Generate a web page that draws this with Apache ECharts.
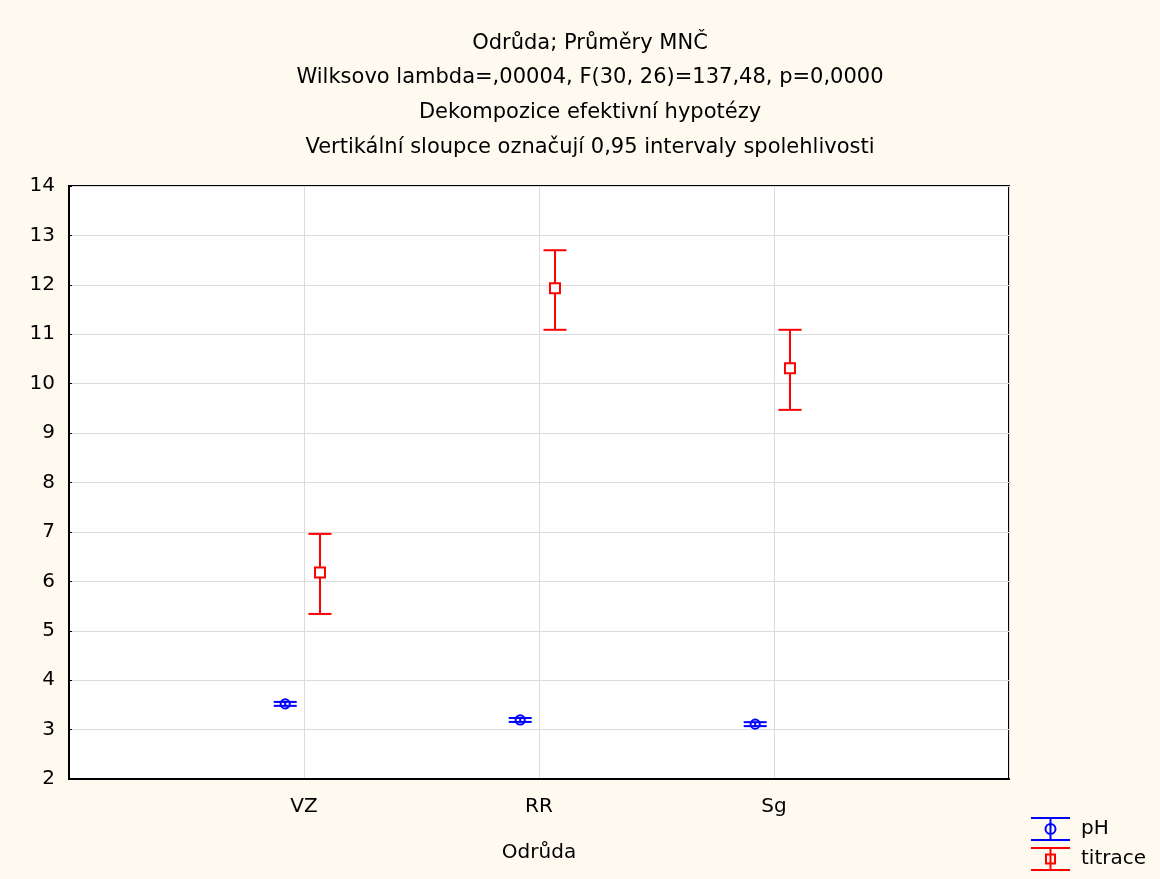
<!DOCTYPE html>
<html><head><meta charset="utf-8">
<script src="https://cdn.jsdelivr.net/npm/echarts@6/dist/echarts.min.js"></script>
<style>html,body{margin:0;padding:0;background:#FFFAF0;}#c{width:1160px;height:879px;}</style>
</head><body><div id="c"></div>
<script>
const categories = ['VZ', 'RR', 'Sg'];
const categoryPositions = [1, 2, 3];
const phMean = [3.52, 3.195, 3.11];
const phLow = [3.48, 3.155, 3.07];
const phHigh = [3.56, 3.235, 3.15];
const titMean = [6.18, 11.93, 10.31];
const titLow = [5.34, 11.09, 9.47];
const titHigh = [6.96, 12.70, 11.09];
const yTicks = [2, 14, 1];
const titleLines = ['Odrůda; Průměry MNČ', 'Wilksovo lambda=,00004, F(30, 26)=137,48, p=0,0000', 'Dekompozice efektivní hypotézy', 'Vertikální sloupce označují 0,95 intervaly spolehlivosti'];

const FONT = '"DejaVu Sans", "Liberation Sans", Arial, sans-serif';

function makeData(mean, low, high) {
  return categoryPositions.map((p, i) => [p, mean[i], low[i], high[i]]);
}

function errRender(offset, shape) {
  return function (params, api) {
    const x = api.value(0) + offset;
    const m = api.coord([x, api.value(1)]);
    const lo = api.coord([x, api.value(2)]);
    const hi = api.coord([x, api.value(3)]);
    const color = api.visual('color');
    const hw = 11.5;
    const st = { stroke: color, lineWidth: 2, fill: null };
    const children = [
      { type: 'line', shape: { x1: m[0], y1: hi[1], x2: m[0], y2: lo[1] }, style: st },
      { type: 'line', shape: { x1: m[0] - hw, y1: hi[1], x2: m[0] + hw, y2: hi[1] }, style: st },
      { type: 'line', shape: { x1: m[0] - hw, y1: lo[1], x2: m[0] + hw, y2: lo[1] }, style: st }
    ];
    if (shape === 'circle') {
      children.push({ type: 'circle', shape: { cx: m[0], cy: m[1], r: 4.6 }, style: { stroke: color, lineWidth: 2, fill: 'none' } });
    } else {
      children.push({ type: 'rect', shape: { x: m[0] - 5, y: m[1] - 5, width: 10, height: 10 }, style: { stroke: color, lineWidth: 2, fill: '#fff' } });
    }
    return { type: 'group', children: children };
  };
}

const phIcon = 'path://M0 0H39V2H0Z M0 22H39V24H0Z M18.5 0H20.5V24H18.5Z M13.5 12A6 6 0 1 1 25.5 12A6 6 0 1 1 13.5 12Z M15.5 12A4 4 0 1 0 23.5 12A4 4 0 1 0 15.5 12Z';
const titIcon = 'path://M0 0H39V2H0Z M0 22H39V24H0Z M18.5 0H20.5V24H18.5Z M14 6.5H25V17.5H14Z M16 8.5V15.5H23V8.5Z';

const chart = echarts.init(document.getElementById('c'));
chart.setOption({
  backgroundColor: '#FFFAF0',
  animation: false,
  title: {
    text: titleLines.join('\n'),
    left: 585, top: 21, textAlign: 'center',
    textStyle: { fontFamily: FONT, fontSize: 21, fontWeight: 'normal', color: '#000', lineHeight: 34.6 }
  },
  grid: { left: 69, right: 151, top: 186, bottom: 100, show: true, backgroundColor: '#fff', borderColor: '#000', borderWidth: 2 },
  legend: {
    orient: 'vertical', left: 1031, top: 817, height: 64, itemWidth: 39, itemHeight: 24, itemGap: 6, padding: 0,
    textStyle: { fontFamily: FONT, fontSize: 20, color: '#000', padding: [0, 0, 0, 6] },
    data: [{ name: 'pH', icon: phIcon }, { name: 'titrace', icon: titIcon }]
  },
  xAxis: {
    type: 'value', min: 0, max: 4, interval: 1,
    name: 'Odrůda', nameLocation: 'middle', nameGap: 64,
    nameTextStyle: { fontFamily: FONT, fontSize: 20, color: '#000' },
    axisLine: { lineStyle: { color: '#000', width: 2 } },
    axisTick: { show: false },
    axisLabel: { fontFamily: FONT, fontSize: 20, color: '#000', margin: 18,
      formatter: v => { const i = categoryPositions.indexOf(v); return i >= 0 ? categories[i] : ''; } },
    splitLine: { show: true, lineStyle: { color: '#dcdcdc', width: 1 } }
  },
  yAxis: {
    type: 'value', min: yTicks[0], max: yTicks[1], interval: yTicks[2],
    axisLine: { show: true, lineStyle: { color: '#000', width: 2 } },
    axisTick: { show: true, inside: true, length: 3, lineStyle: { color: '#000' } },
    axisLabel: { fontFamily: FONT, fontSize: 20, color: '#000', margin: 14 },
    splitLine: { show: true, lineStyle: { color: '#dcdcdc', width: 1 } }
  },
  series: [
    { name: 'pH', type: 'custom', itemStyle: { color: '#0000FF' }, renderItem: errRender(-0.08, 'circle'),
      encode: { x: 0, y: [1, 2, 3] }, data: makeData(phMean, phLow, phHigh), z: 3 },
    { name: 'titrace', type: 'custom', itemStyle: { color: '#FF0000' }, renderItem: errRender(0.068, 'square'),
      encode: { x: 0, y: [1, 2, 3] }, data: makeData(titMean, titLow, titHigh), z: 3 }
  ]
});
</script></body></html>
